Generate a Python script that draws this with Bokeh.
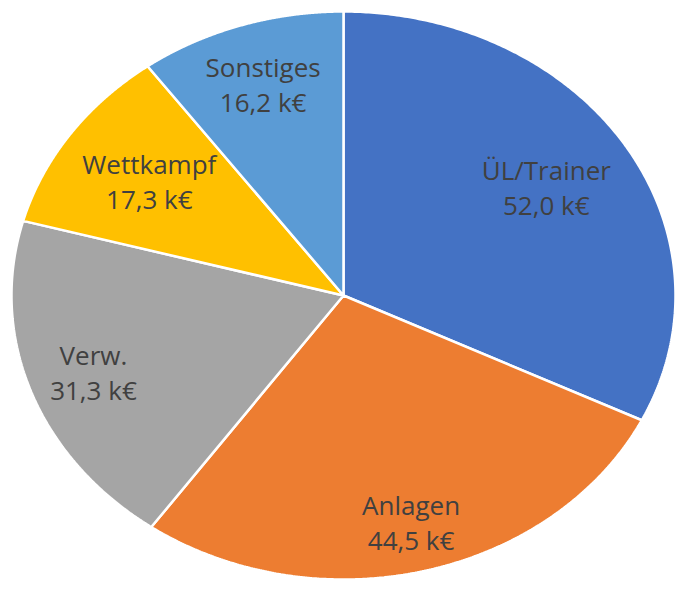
import numpy as np
from bokeh.plotting import figure
from bokeh.models import Range1d, ColumnDataSource
from bokeh.core.properties import value
from bokeh.embed import file_html
from bokeh.resources import INLINE

# data
categories = ["ÜL/Trainer", "Anlagen", "Verw.", "Wettkampf", "Sonstiges"]
values = [52.0, 44.5, 31.3, 17.3, 16.2]
colors = ["#4472C4", "#ED7D31", "#A5A5A5", "#FFC000", "#5B9BD5"]

# layout (pixel-like units; y grows downward)
W, H = 676, 580
cx, cy = 343, 295
rx, ry = 332, 284
label_r = [0.72, 0.825, 0.80, 0.71, 0.78]
line_gap = 17.5

p = figure(width=W, height=H, output_backend="svg", toolbar_location=None,
           x_range=Range1d(0, W), y_range=Range1d(H, 0),
           min_border=0)
p.axis.visible = False
p.grid.visible = False
p.outline_line_color = None
p.background_fill_color = "white"

vals = np.array(values)
frac = vals / vals.sum()
ends = np.cumsum(frac) * 2 * np.pi
starts = ends - frac * 2 * np.pi

xs, ys = [], []
for a0, a1 in zip(starts, ends):
    t = np.linspace(a0, a1, 240)
    xs.append(list(np.concatenate([[cx], cx + rx * np.sin(t), [cx]])))
    ys.append(list(np.concatenate([[cy], cy - ry * np.cos(t), [cy]])))

p.patches(xs, ys, fill_color=colors, line_color="white", line_width=2.5)

mid = (starts + ends) / 2
lx = cx + rx * np.array(label_r) * np.sin(mid)
ly = cy - ry * np.array(label_r) * np.cos(mid)
line1 = categories
line2 = [f"{v:.1f}".replace(".", ",") + " k€" for v in values]

src = ColumnDataSource(dict(x=list(lx), y1=list(ly - line_gap), y2=list(ly + line_gap),
                            t1=line1, t2=line2))
for ycol, tcol in (("y1", "t1"), ("y2", "t2")):
    p.text(x="x", y=ycol, text=tcol, source=src, text_align="center",
           text_baseline="middle", text_font=value("Open Sans"),
           text_font_size="26px", text_color="#404040")

open("out.html", "w").write(file_html(p, INLINE))
